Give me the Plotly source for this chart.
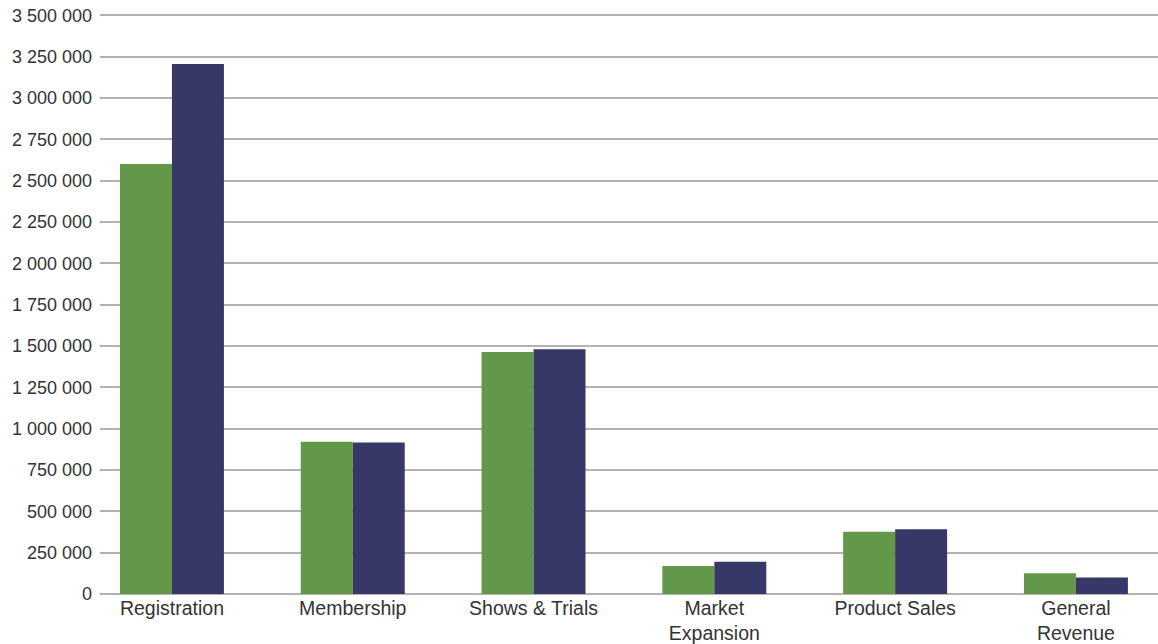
import plotly.graph_objects as go

categories = ["Registration", "Membership", "Shows & Trials", "Market<br>Expansion", "Product Sales", "General<br>Revenue"]
series_a = [2600000, 921000, 1464000, 169000, 377000, 125000]
series_b = [3205000, 917000, 1480000, 195000, 391000, 100000]
y_ticks = list(range(0, 3500001, 250000))

fig = go.Figure()
fig.add_trace(go.Bar(x=categories, y=series_a, name="Series A",
                     marker=dict(color="#63984a", line=dict(width=0))))
fig.add_trace(go.Bar(x=categories, y=series_b, name="Series B",
                     marker=dict(color="#373768", line=dict(width=0))))

fig.update_layout(
    width=1158, height=644,
    margin=dict(l=100, r=0, t=12, b=50, autoexpand=False),
    paper_bgcolor="white", plot_bgcolor="white",
    barmode="group", bargap=0.425, bargroupgap=0,
    showlegend=False,
    separators=". ",
    font=dict(family="Liberation Sans, Arial, sans-serif", color="#333333"),
)
fig.update_xaxes(
    type="category", range=[-0.398, 5.454], automargin=False,
    showgrid=False, zeroline=False, showline=False,
    ticks="", tickfont=dict(size=19.5, color="#333333"),
)
fig.update_yaxes(
    range=[0, 3520000], tickvals=y_ticks, tickformat=",d", automargin=False,
    showgrid=True, gridcolor="#b3b3b3", gridwidth=1.5,
    zeroline=True, zerolinecolor="#b3b3b3", zerolinewidth=1.5,
    showline=False, ticks="", ticklabelstandoff=7,
    tickfont=dict(size=18, color="#333333"),
)

fig.write_html("out.html", config={"displayModeBar": False},
               post_script="document.body.style.margin='0px';document.body.style.padding='0px';")
